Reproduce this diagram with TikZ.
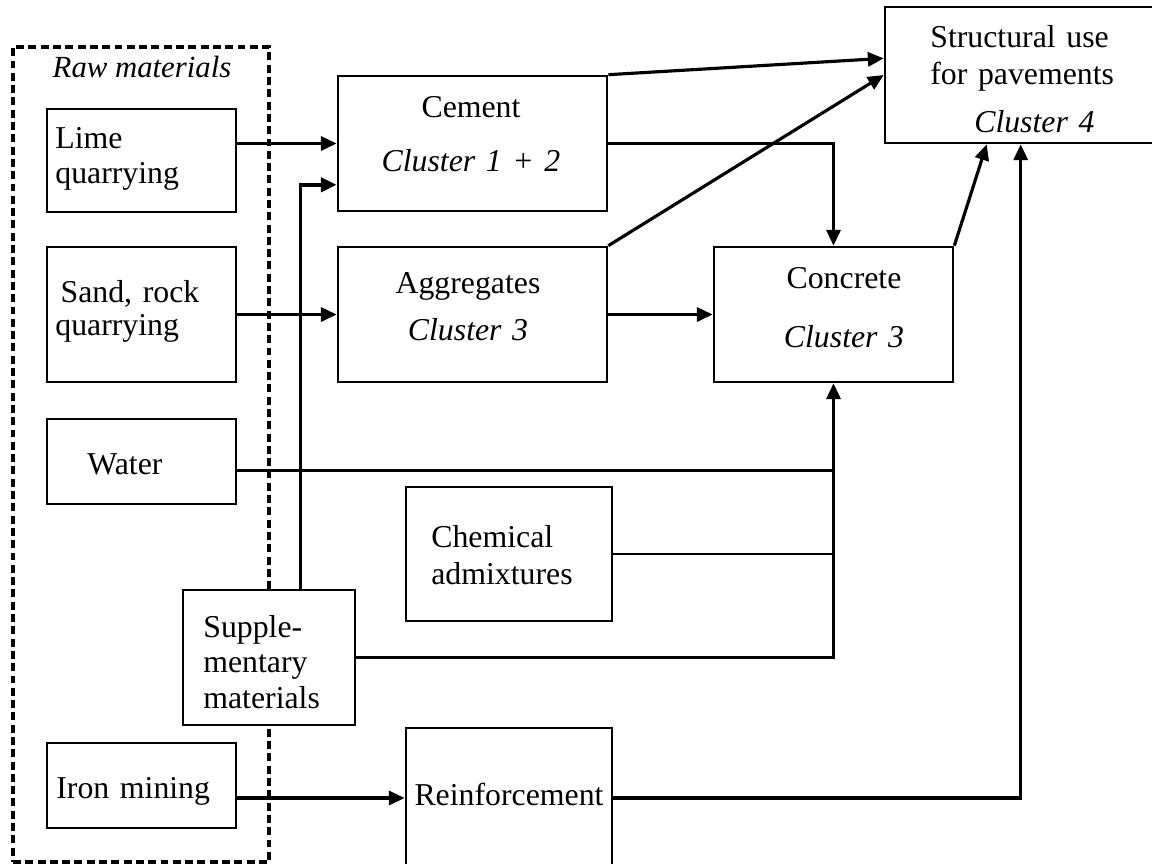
\documentclass[tikz,border=0pt]{standalone}
\usepackage{fontspec}
\setmainfont{Liberation Serif}
\usetikzlibrary{positioning,fit,calc,arrows.meta}
\tikzset{
	box/.style = {draw, fill=white, line width=1.5pt, inner sep=0pt},
	frame/.style = {draw, dash pattern=on 4.5pt off 2.5pt, line width=1.8pt, inner sep=0pt},
	txt/.style = {inner sep=0pt, text width=#1, font=\fontsize{18.1}{20.4}\selectfont},
	txt/.default = 5cm,
	link/.style = {line width=1.8pt},
	thin/.style = {line width=1.4pt},
	arr/.style = {link, -{Triangle[length=9pt, width=8pt]}}
}

\begin{document}
\begin{tikzpicture}[x=0.02cm, y=-0.02cm]
\useasboundingbox (0,0) rectangle (1152,863);

% NODES
% raw materials
\node (raw) [frame, fit={(13,47) (269,862)}] {};
\node (rawlabel) [txt, text width=, font=\fontsize{17.5}{20}\selectfont, anchor=base] at (142,77) {\textit{Raw materials}};
\node (lime) [box, fit={(47,109) (236,212)}] {};
\node (lime-t) [txt, align=left, anchor=base west] at (55,148) {Lime\\quarrying};
\node (sand) [box, fit={(47,247) (236,382)}] {};
\node (sand-t) [txt, align=left, anchor=base west] at (55,302) {\hspace*{3pt}Sand, rock\\[-1.5pt]quarrying};
\node (water) [box, fit={(47,419) (236,504)}] {};
\node (water-t) [txt, align=left, anchor=base west] at (87,474) {Water};
\node (supp) [box, fit={(183,590) (355,725)}] {};
\node (supp-t) [txt, align=left, anchor=base west] at (203,637) {Supple-\\mentary\\materials};
\node (iron) [box, fit={(47,743) (236,828)}] {};
\node (iron-t) [txt, align=left, anchor=base west] at (56,798) {Iron mining};
% products
\node (cement) [box, fit={(338,76) (607,211)}] {};
\node (cement-t) [txt=4.5cm, align=center, anchor=base] at (471,117) {Cement\\[10.8pt]\textit{Cluster 1 + 2}};
\node (aggr) [box, fit={(338,247) (607,382)}] {};
\node (aggr-t) [txt=4.5cm, align=center, anchor=base] at (468,293) {Aggregates\\[6.8pt]\textit{Cluster 3}};
\node (concrete) [box, fit={(714,247) (953,382)}] {};
\node (concrete-t) [txt=4.5cm, align=center, anchor=base] at (844,288) {Concrete\\[13.6pt]\textit{Cluster 3}};
\node (struct) [box, fit={(885,7) (1160,143)}] {};
\node (struct-t) [txt, align=left, anchor=base west] at (930,47) {Structural use\\[1pt]for pavements\\[6.8pt]\hspace*{25pt}\textit{Cluster 4}};
\node (chem) [box, fit={(406,487) (612,621)}] {};
\node (chem-t) [txt, align=left, anchor=base west] at (431,547) {Chemical\\[1pt]admixtures};
\node (reinf) [box, fit={(406,728) (612,868)}] {};
\node (reinf-t) [txt=4cm, align=center, anchor=base] at (509,805) {Reinforcement};

% join points
\coordinate (waterjoin) at ($(water.north east)!0.6!(water.south east)$);

%CONNECTIONS
\draw [arr] (cement.west -| lime.east) -- (cement.west);
\draw [arr, line width=2.2pt] ($(supp.north west)!0.68!(supp.north east)$) |- ($(cement.north west)!0.8!(cement.south west)$);
\draw [arr] (sand) -- (aggr);
\draw [arr] (cement.north east) -- ($(struct.north west)!0.38!(struct.south west)$);
\draw [arr] (aggr.north east) -- (struct.west);
\draw [arr] (cement.east) -| (concrete.north);
\draw [arr] (aggr) -- (concrete);
\draw [arr] (concrete.north east) -- ($(struct.south west)+(103,0)$);
\draw [arr] (reinf.east) -| ($(struct.south west)+(137,0)$);
\draw [thin] (waterjoin) -- (waterjoin -| concrete.south);
\draw [thin] (chem.east) -- (chem.east -| concrete.south);
\draw [arr] (supp.east) -| (concrete.south);
\draw [arr] (reinf.west -| iron.east) -- (reinf.west);

\end{tikzpicture}
\end{document}
